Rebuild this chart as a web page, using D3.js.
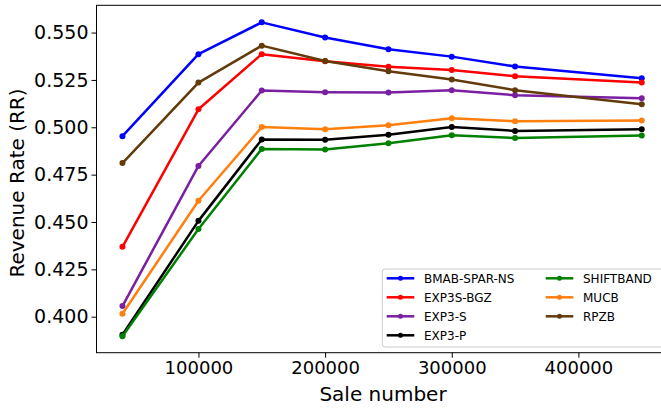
<!DOCTYPE html>
<html lang="en">
<head>
  <meta charset="UTF-8">
  <title>Revenue Rate vs Sale number</title>
  <script src="https://d3js.org/d3.v7.min.js"></script>
  <style>
    body {
      margin: 0;
      padding: 0;
      background: white;
      font-family: "DejaVu Sans", sans-serif;
    }
    svg { display: block; }
  </style>
</head>
<body>
  <div id="chart"></div>

  <script>
    // sale numbers (x)
    const saleNumbers = [40000, 100000, 150000, 200000, 250000, 300000, 350000, 450000];

    const seriesNames = ["BMAB-SPAR-NS", "EXP3S-BGZ", "EXP3-S", "EXP3-P", "SHIFTBAND", "MUCB", "RPZB"];
    const seriesColors = ["#0000ff", "#ff0000", "#7b1fa2", "#000000", "#008000", "#ff7f0e", "#633b0a"];

    const bmabSparNs = [0.4953, 0.5386, 0.5554, 0.5474, 0.5412, 0.5373, 0.5321, 0.5259];
    const exp3sBgz   = [0.4369, 0.5095, 0.5386, 0.5349, 0.5319, 0.5303, 0.5270, 0.5236];
    const exp3S      = [0.4056, 0.4796, 0.5194, 0.5185, 0.5183, 0.5196, 0.5169, 0.5153];
    const exp3P      = [0.3905, 0.4506, 0.4936, 0.4934, 0.4960, 0.5001, 0.4981, 0.4990];
    const shiftband  = [0.3897, 0.4463, 0.4886, 0.4883, 0.4916, 0.4958, 0.4943, 0.4957];
    const mucb       = [0.4016, 0.4612, 0.5001, 0.4990, 0.5011, 0.5048, 0.5032, 0.5036];
    const rpzb       = [0.4811, 0.5236, 0.5431, 0.5350, 0.5296, 0.5252, 0.5196, 0.5122];

    const yTicks = [0.400, 0.425, 0.450, 0.475, 0.500, 0.525, 0.550];
    const xTicks = [100000, 200000, 300000, 400000];

    const seriesValues = [bmabSparNs, exp3sBgz, exp3S, exp3P, shiftband, mucb, rpzb];
    const series = seriesNames.map((name, i) => ({
      name: name,
      color: seriesColors[i],
      values: saleNumbers.map((s, j) => ({ x: s, y: seriesValues[i][j] }))
    }));

    const W = 661, H = 408;
    // right edge of the axes sits just past the window, like the source
    const margin = { top: 5.3, right: -6.7, bottom: 55.3, left: 96.5 };
    const width = W - margin.left - margin.right;
    const height = H - margin.top - margin.bottom;

    const svg = d3.select("#chart")
      .append("svg")
      .attr("width", W)
      .attr("height", H);

    const g = svg.append("g")
      .attr("transform", `translate(${margin.left},${margin.top})`);

    const x = d3.scaleLinear()
      .domain([19500, 470500])
      .range([0, width]);

    const y = d3.scaleLinear()
      .domain([0.381, 0.5644])
      .range([height, 0]);

    // axes
    const xAxis = g.append("g")
      .attr("transform", `translate(0,${height})`)
      .call(d3.axisBottom(x).tickValues(xTicks).tickFormat(d3.format("d")).tickSize(5).tickPadding(4));

    const yAxis = g.append("g")
      .call(d3.axisLeft(y).tickValues(yTicks).tickFormat(d3.format(".3f")).tickSize(5).tickPadding(3));

    [xAxis, yAxis].forEach(a => {
      a.select(".domain").remove();
      a.selectAll("text")
        .attr("font-family", "DejaVu Sans")
        .attr("fill", "#000");
      a.selectAll("line").attr("stroke", "#000");
    });
    xAxis.selectAll("text").attr("font-size", 18);
    yAxis.selectAll("text").attr("font-size", 19);

    // frame
    g.append("rect")
      .attr("x", 0)
      .attr("y", 0)
      .attr("width", width)
      .attr("height", height)
      .attr("fill", "none")
      .attr("stroke", "#000")
      .attr("stroke-width", 1);

    const line = d3.line()
      .x(d => x(d.x))
      .y(d => y(d.y));

    series.forEach(s => {
      g.append("path")
        .datum(s.values)
        .attr("fill", "none")
        .attr("stroke", s.color)
        .attr("stroke-width", 2.5)
        .attr("stroke-linejoin", "round")
        .attr("d", line);

      g.selectAll(null)
        .data(s.values)
        .join("circle")
        .attr("cx", d => x(d.x))
        .attr("cy", d => y(d.y))
        .attr("r", 3)
        .attr("fill", s.color);
    });

    // axis labels
    svg.append("text")
      .attr("x", 383)
      .attr("y", 401)
      .attr("text-anchor", "middle")
      .attr("font-family", "DejaVu Sans")
      .attr("font-size", 20)
      .text("Sale number");

    svg.append("text")
      .attr("transform", "translate(24,183) rotate(-90)")
      .attr("text-anchor", "middle")
      .attr("font-family", "DejaVu Sans")
      .attr("font-size", 20)
      .text("Revenue Rate (RR)");

    // legend
    const legend = svg.append("g").attr("transform", "translate(382.3,269)");
    legend.append("rect")
      .attr("x", 0)
      .attr("y", 0)
      .attr("width", 282)
      .attr("height", 78)
      .attr("rx", 3)
      .attr("fill", "white")
      .attr("fill-opacity", 0.8)
      .attr("stroke", "#cccccc");

    series.forEach((s, i) => {
      const col = i < 4 ? 0 : 1;
      const row = i < 4 ? i : i - 4;
      const lg = legend.append("g")
        .attr("transform", `translate(${col === 0 ? 4.4 : 163.4},${9.3 + row * 19})`);
      lg.append("line")
        .attr("x1", 0).attr("x2", 27.6)
        .attr("y1", 0).attr("y2", 0)
        .attr("stroke", s.color)
        .attr("stroke-width", 2.5);
      lg.append("circle")
        .attr("cx", 13.8).attr("cy", 0).attr("r", 2.5)
        .attr("fill", s.color);
      lg.append("text")
        .attr("x", 37.3)
        .attr("y", 0)
        .attr("dy", "0.35em")
        .attr("font-family", "DejaVu Sans")
        .attr("font-size", 12)
        .text(s.name);
    });
  </script>
</body>
</html>
